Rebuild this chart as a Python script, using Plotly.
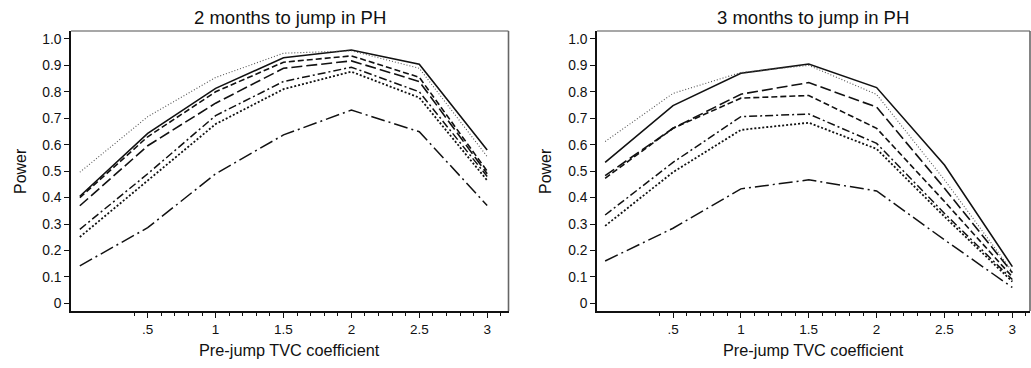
import plotly.graph_objects as go

x_vals = [0, 0.5, 1, 1.5, 2, 2.5, 3]
x_tick_vals = [0.5, 1, 1.5, 2, 2.5, 3]
x_tick_text = [".5", "1", "1.5", "2", "2.5", "3"]
x_minor_vals = [0.4, 0.6, 0.7, 0.8, 0.9, 1.1, 1.2, 1.3, 1.4, 1.6, 1.7, 1.8, 1.9,
                2.1, 2.2, 2.3, 2.4, 2.6, 2.7, 2.8, 2.9, 3.1]
y_tick_vals = [0, 0.1, 0.2, 0.3, 0.4, 0.5, 0.6, 0.7, 0.8, 0.9, 1.0]
y_tick_text = ["0", "0.1", "0.2", "0.3", "0.4", "0.5", "0.6", "0.7", "0.8", "0.9", "1.0"]

titles = ["2 months to jump in PH", "3 months to jump in PH"]
x_title = "Pre-jump TVC coefficient"
y_title = "Power"

# Left panel: 2 months to jump
left_solid = [0.405, 0.643, 0.813, 0.929, 0.958, 0.904, 0.580]
left_finedot = [0.496, 0.706, 0.854, 0.946, 0.955, 0.889, 0.555]
left_dash = [0.400, 0.630, 0.800, 0.912, 0.936, 0.855, 0.500]
left_longdash = [0.369, 0.596, 0.757, 0.889, 0.917, 0.839, 0.490]
left_dashdot = [0.280, 0.490, 0.710, 0.839, 0.893, 0.800, 0.480]
left_dot = [0.251, 0.466, 0.678, 0.810, 0.876, 0.778, 0.465]
left_longdashdot = [0.142, 0.286, 0.490, 0.637, 0.731, 0.649, 0.370]

# Right panel: 3 months to jump
right_solid = [0.533, 0.748, 0.870, 0.905, 0.816, 0.523, 0.139]
right_finedot = [0.612, 0.794, 0.873, 0.900, 0.790, 0.467, 0.120]
right_longdash = [0.483, 0.662, 0.791, 0.835, 0.742, 0.435, 0.116]
right_dash = [0.473, 0.662, 0.776, 0.786, 0.662, 0.385, 0.100]
right_dashdot = [0.334, 0.533, 0.706, 0.716, 0.605, 0.340, 0.090]
right_dot = [0.293, 0.496, 0.656, 0.683, 0.584, 0.328, 0.082]
right_longdashdot = [0.160, 0.284, 0.433, 0.467, 0.425, 0.240, 0.060]

styles = {
    "solid": dict(color="#111111", width=1.6, dash="solid"),
    "finedot": dict(color="#555555", width=1.1, dash="1px,2px"),
    "dash": dict(color="#111111", width=1.6, dash="6px,3px"),
    "longdash": dict(color="#111111", width=1.6, dash="11px,4px"),
    "dashdot": dict(color="#111111", width=1.5, dash="8px,3px,2px,3px"),
    "dot": dict(color="#111111", width=1.8, dash="2px,2px"),
    "longdashdot": dict(color="#111111", width=1.5, dash="14px,4px,2px,4px"),
}

left_series = [("solid", left_solid), ("finedot", left_finedot), ("dash", left_dash),
               ("longdash", left_longdash), ("dashdot", left_dashdot), ("dot", left_dot),
               ("longdashdot", left_longdashdot)]
right_series = [("solid", right_solid), ("finedot", right_finedot), ("dash", right_dash),
                ("longdash", right_longdash), ("dashdot", right_dashdot), ("dot", right_dot),
                ("longdashdot", right_longdashdot)]

fig = go.Figure()
for name, ys in left_series:
    fig.add_trace(go.Scatter(x=x_vals, y=ys, mode="lines", line=styles[name],
                             xaxis="x", yaxis="y", showlegend=False, hoverinfo="skip"))
for name, ys in right_series:
    fig.add_trace(go.Scatter(x=x_vals, y=ys, mode="lines", line=styles[name],
                             xaxis="x2", yaxis="y2", showlegend=False, hoverinfo="skip"))

W, H = 1031, 368
font_family = "Liberation Sans, Arial, sans-serif"

def xaxis_cfg(domain, rng, anchor):
    return dict(domain=domain, range=rng, anchor=anchor, showgrid=False, zeroline=False,
                showline=True, linecolor="#111111", linewidth=1.6,
                tickmode="array", tickvals=x_tick_vals, ticktext=x_tick_text,
                ticks="outside", ticklen=5, tickwidth=1, tickcolor="#111111",
                tickfont=dict(family=font_family, size=13.5, color="#111111"),
                minor=dict(tickvals=x_minor_vals, ticks="outside", ticklen=3,
                           tickwidth=1, tickcolor="#111111", showgrid=False))

def yaxis_cfg(domain, anchor):
    return dict(domain=domain, range=[-0.029, 1.030], anchor=anchor, showgrid=False,
                zeroline=False, showline=True, linecolor="#111111", linewidth=1.6,
                tickmode="array", tickvals=y_tick_vals, ticktext=y_tick_text,
                ticks="outside", ticklen=5, tickwidth=1, tickcolor="#111111",
                tickfont=dict(family=font_family, size=13.8, color="#111111"))

y_dom = [1 - 311 / H, 1 - 31 / H]
xd1 = [71 / W, 508.5 / W]
xd2 = [597 / W, 1030 / W]

fig.update_layout(
    width=W, height=H, margin=dict(l=0, r=0, t=0, b=0),
    paper_bgcolor="white", plot_bgcolor="white", hovermode=False,
    xaxis=xaxis_cfg(xd1, [-0.065, 3.157], "y"),
    yaxis=yaxis_cfg(y_dom, "x"),
    xaxis2=xaxis_cfg(xd2, [-0.06, 3.13], "y2"),
    yaxis2=yaxis_cfg(y_dom, "x2"),
)

# gray top/right frame
for xr, yr in [("x domain", "y domain"), ("x2 domain", "y2 domain")]:
    fig.add_shape(type="line", xref=xr, yref=yr, x0=0, x1=1, y0=1, y1=1,
                  line=dict(color="#8a8a8a", width=1.6))
    fig.add_shape(type="line", xref=xr, yref=yr, x0=1, x1=1, y0=0, y1=1,
                  line=dict(color="#666666", width=1.6))

annotations = []
for i, (xd, title) in enumerate([(xd1, titles[0]), (xd2, titles[1])]):
    cx = (xd[0] + xd[1]) / 2
    annotations.append(dict(text=title, x=cx, y=1 - 17.5 / H, xref="paper", yref="paper",
                            xanchor="center", yanchor="middle", showarrow=False,
                            font=dict(family=font_family, size=18.5, color="#111111")))
    annotations.append(dict(text=x_title, x=cx, y=1 - 350 / H, xref="paper", yref="paper",
                            xanchor="center", yanchor="middle", showarrow=False,
                            font=dict(family=font_family, size=16.3, color="#111111")))
ylab_x = [20 / W, 545 / W]
for lx in ylab_x:
    annotations.append(dict(text=y_title, x=lx, y=1 - 171 / H, xref="paper", yref="paper",
                            xanchor="center", yanchor="middle", showarrow=False, textangle=-90,
                            font=dict(family=font_family, size=16, color="#111111")))
fig.update_layout(annotations=annotations)

fig.write_html("out.html")
